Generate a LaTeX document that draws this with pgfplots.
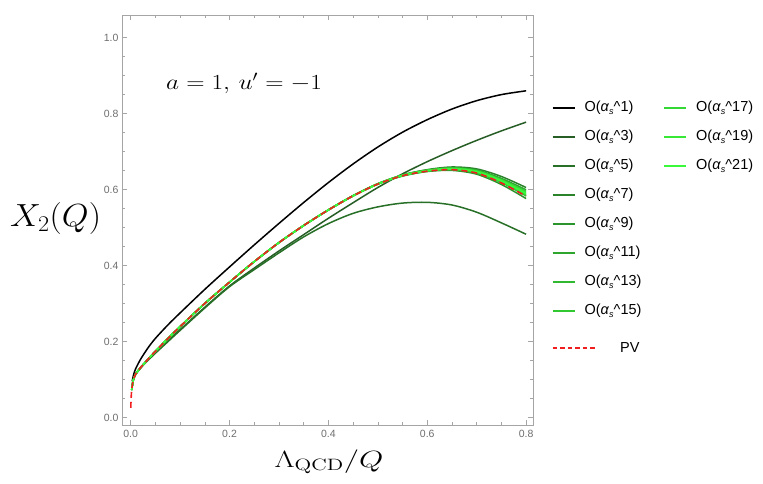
\RequirePackage{fix-cm}
\documentclass[border=0pt]{standalone}
\usepackage[no-math]{fontspec}
\setmainfont{Liberation Sans}
\usepackage{graphicx}
\usepackage{pgfplots}
\pgfplotsset{compat=1.18}
\usepackage{pgfplotstable}

\definecolor{framegray}{RGB}{165,165,165}
\definecolor{labelgray}{RGB}{110,110,110}
\definecolor{cO1}{RGB}{0,0,0}
\definecolor{cO3}{RGB}{38,94,38}
\definecolor{cO5}{RGB}{40,112,40}
\definecolor{cO7}{RGB}{42,130,42}
\definecolor{cO9}{RGB}{44,148,44}
\definecolor{cO11}{RGB}{46,166,46}
\definecolor{cO13}{RGB}{48,184,48}
\definecolor{cO15}{RGB}{50,200,50}
\definecolor{cO17}{RGB}{52,216,52}
\definecolor{cO19}{RGB}{55,232,55}
\definecolor{cO21}{RGB}{58,248,58}
\definecolor{pvred}{RGB}{240,30,30}

% O(alpha_s^1)
\pgfplotstableread{
x y
0.003 0.095
0.006 0.113
0.01 0.128
0.02 0.153
0.035 0.183
0.05 0.208
0.075 0.243
0.1 0.275
0.15 0.337
0.2 0.396
0.25 0.454
0.3 0.5105
0.35 0.5655
0.4 0.618
0.45 0.667
0.5 0.7115
0.55 0.7505
0.6 0.7835
0.65 0.8115
0.7 0.8335
0.75 0.8495
0.8 0.8595
}\dataone

% O(alpha_s^3)
\pgfplotstableread{
x y
0.002 0.072
0.005 0.097
0.01 0.113
0.02 0.130
0.035 0.151
0.05 0.170
0.075 0.201
0.1 0.231
0.15 0.290
0.2 0.346
0.25 0.393
0.3 0.438
0.35 0.481
0.4 0.524
0.45 0.565
0.5 0.605
0.55 0.641
0.6 0.673
0.65 0.702
0.7 0.729
0.75 0.754
0.8 0.777
}\datathree

% O(alpha_s^5)
\pgfplotstableread{
x y
0.002 0.072
0.005 0.097
0.01 0.113
0.02 0.130
0.035 0.150
0.05 0.169
0.075 0.199
0.1 0.229
0.15 0.288
0.2 0.344
0.25 0.389
0.3 0.433
0.35 0.475
0.4 0.510
0.45 0.537
0.5 0.554
0.55 0.564
0.6 0.566
0.65 0.559
0.7 0.540
0.75 0.512
0.8 0.482
}\datafive

% O(alpha_s^7) ... O(alpha_s^21)
\pgfplotstableread{
x o7 o9 o11 o13 o15 o17 o19 o21
0.002 0.072 0.072 0.072 0.072 0.072 0.072 0.072 0.072
0.005 0.097 0.097 0.097 0.097 0.097 0.097 0.097 0.097
0.01 0.114 0.114 0.114 0.114 0.114 0.114 0.114 0.114
0.02 0.131 0.131 0.131 0.131 0.131 0.131 0.131 0.131
0.035 0.153 0.153 0.153 0.153 0.153 0.153 0.153 0.153
0.05 0.174 0.174 0.174 0.174 0.174 0.174 0.174 0.174
0.075 0.207 0.207 0.207 0.207 0.207 0.207 0.207 0.207
0.1 0.239 0.239 0.239 0.239 0.239 0.239 0.239 0.239
0.15 0.300 0.300 0.300 0.300 0.300 0.300 0.300 0.300
0.2 0.356 0.356 0.356 0.356 0.356 0.356 0.356 0.356
0.25 0.410 0.410 0.410 0.410 0.410 0.410 0.410 0.410
0.3 0.460 0.460 0.460 0.460 0.460 0.460 0.460 0.460
0.35 0.505 0.505 0.505 0.505 0.505 0.505 0.505 0.505
0.4 0.546 0.546 0.546 0.546 0.546 0.546 0.546 0.546
0.45 0.584 0.583 0.583 0.583 0.583 0.583 0.583 0.583
0.5 0.615 0.614 0.615 0.614 0.615 0.614 0.614 0.614
0.55 0.638 0.635 0.638 0.636 0.637 0.636 0.637 0.637
0.6 0.652 0.647 0.651 0.648 0.650 0.649 0.650 0.649
0.65 0.659 0.650 0.657 0.652 0.656 0.653 0.655 0.654
0.7 0.654 0.640 0.651 0.643 0.649 0.645 0.648 0.646
0.75 0.634 0.613 0.629 0.618 0.626 0.620 0.624 0.622
0.8 0.605 0.576 0.599 0.583 0.595 0.586 0.592 0.589
}\databand

% PV
\pgfplotstableread{
x y
0.0002 0.025
0.0008 0.048
0.002 0.072
0.005 0.097
0.01 0.114
0.02 0.131
0.035 0.153
0.05 0.174
0.075 0.207
0.1 0.239
0.15 0.300
0.2 0.356
0.25 0.410
0.3 0.460
0.35 0.505
0.4 0.546
0.45 0.583
0.5 0.614
0.55 0.636
0.6 0.648
0.65 0.652
0.7 0.643
0.75 0.617
0.8 0.582
}\datapv

\newcommand{\Oas}[1]{O(\textit{α}\raisebox{-0.35ex}{\fontsize{9}{10}\selectfont\textit{s}}\textasciicircum #1)}

\begin{document}
\begin{tikzpicture}[x=1pt,y=1pt]
\path[use as bounding box] (0,0) rectangle (763,483);
\begin{axis}[
  at={(122pt,58pt)}, anchor=south west,
  width=411pt, height=410pt, scale only axis,
  xmin=-0.0176, xmax=0.814, ymin=-0.020, ymax=1.059,
  xtick={0,0.2,0.4,0.6,0.8},
  xticklabels={0.0,0.2,0.4,0.6,0.8},
  ytick={0,0.2,0.4,0.6,0.8,1.0},
  yticklabels={0.0,0.2,0.4,0.6,0.8,1.0},
  minor tick num=3,
  tick align=inside,
  major tick length=5pt, minor tick length=3pt,
  axis line style={draw=framegray, line width=0.8pt},
  tick style={draw=framegray, line width=0.6pt},
  ticklabel style={text=labelgray, font=\fontsize{10.5}{12}\selectfont},
  xticklabel style={yshift=-2pt},
  /pgf/number format/assume math mode=true,
  every axis plot/.append style={smooth, tension=0.5},
]
\addplot[cO1, line width=1.5pt] table {\dataone};
\addplot[cO3, line width=1.5pt] table {\datathree};
\addplot[cO5, line width=1.5pt] table {\datafive};
\addplot[cO7, line width=1.5pt] table[x=x,y=o7] {\databand};
\addplot[cO9, line width=1.5pt] table[x=x,y=o9] {\databand};
\addplot[cO11, line width=1.5pt] table[x=x,y=o11] {\databand};
\addplot[cO13, line width=1.5pt] table[x=x,y=o13] {\databand};
\addplot[cO15, line width=1.5pt] table[x=x,y=o15] {\databand};
\addplot[cO17, line width=1.5pt] table[x=x,y=o17] {\databand};
\addplot[cO19, line width=1.5pt] table[x=x,y=o19] {\databand};
\addplot[cO21, line width=1.5pt] table[x=x,y=o21] {\databand};
\addplot[pvred, line width=1.6pt, dash pattern=on 6pt off 4pt] table {\datapv};
\end{axis}

% annotation
\node[anchor=base west, inner sep=0pt] at (166,393.7) {\scalebox{1.18}[1]{\fontsize{21.5}{24}\selectfont $a=1,\, u'=-1$}};
% axis labels
\node[anchor=base, inner sep=0pt] at (55.5,256.3) {\scalebox{1.08}[1]{\fontsize{32}{36}\selectfont $X_2(Q)$}};
\node[anchor=base, inner sep=0pt] at (329,15.7) {\scalebox{1.33}[1]{\fontsize{23.5}{26}\selectfont $\Lambda_{\mathrm{QCD}}/Q$}};

% legend
\foreach \lab/\col/\py in {1/cO1/108, 3/cO3/137, 5/cO5/166, 7/cO7/195, 9/cO9/224, 11/cO11/253, 13/cO13/282, 15/cO15/311}{
  \draw[\col, line width=1.7pt] (552.7,483-\py) -- (575,483-\py);
  \node[anchor=west, inner sep=0pt] at (584.3,483-\py) {\fontsize{14.5}{16}\selectfont\Oas{\lab}};
}
\foreach \lab/\col/\py in {17/cO17/108, 19/cO19/137, 21/cO21/166}{
  \draw[\col, line width=1.7pt] (664,483-\py) -- (686,483-\py);
  \node[anchor=west, inner sep=0pt] at (696,483-\py) {\fontsize{14.5}{16}\selectfont\Oas{\lab}};
}
\draw[pvred, line width=1.6pt, dash pattern=on 4.5pt off 3pt] (552.7,483-348) -- (596.7,483-348);
\node[anchor=west, inner sep=0pt] at (620,483-348) {\fontsize{14.5}{16}\selectfont PV};
\end{tikzpicture}
\end{document}
